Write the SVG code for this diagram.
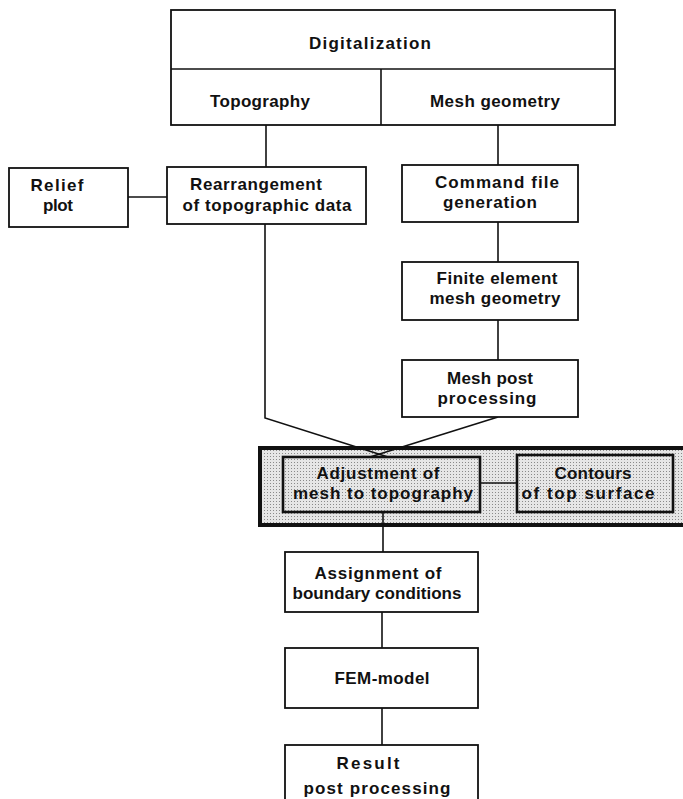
<svg xmlns="http://www.w3.org/2000/svg" width="683" height="799" viewBox="0 0 683 799">
  <style>
    .box { fill: #fff; stroke: #111; stroke-width: 1.8; }
    .inner { fill: url(#stipple); stroke: #111; stroke-width: 2.6; }
    .frame { fill: url(#stipple); stroke: #111; stroke-width: 4; }
    .wire { fill: none; stroke: #111; stroke-width: 1.6; }
    text { font-family: "Liberation Sans", Arial, sans-serif; font-size: 17px; font-weight: bold; fill: #111; text-anchor: middle; }
  </style>
  <defs>
    <pattern id="stipple" width="3" height="3" patternUnits="userSpaceOnUse">
      <rect width="3" height="3" fill="#e6e6e6"/>
      <rect x="0" y="0" width="1" height="1" fill="#8a8a8a"/>
    </pattern>
  </defs>

  <!-- shaded frame behind the adjustment stage -->
  <g id="adjustment-block">
    <rect class="frame" x="260" y="448" width="430" height="77"/>
  </g>

  <!-- connectors -->
  <g id="connectors">
    <line class="wire" x1="266" y1="125" x2="266" y2="167"/>
    <line class="wire" x1="498" y1="125" x2="498" y2="165"/>
    <line class="wire" x1="128" y1="197" x2="167" y2="197"/>
    <line class="wire" x1="498" y1="222" x2="498" y2="262"/>
    <line class="wire" x1="498" y1="320" x2="498" y2="360"/>
    <polyline class="wire" points="265,224 265,418 388,457"/>
    <line class="wire" x1="498" y1="417" x2="370" y2="457"/>
    <line class="wire" x1="480" y1="483" x2="517" y2="483"/>
    <line class="wire" x1="383" y1="512" x2="383" y2="552"/>
    <line class="wire" x1="382" y1="612" x2="382" y2="648"/>
    <line class="wire" x1="382" y1="708" x2="382" y2="745"/>
  </g>

  <!-- top block -->
  <g id="digitalization">
    <rect class="box" x="171" y="10" width="444" height="115"/>
    <line class="wire" x1="171" y1="69" x2="615" y2="69"/>
    <text x="370" y="49" textLength="122" lengthAdjust="spacing">Digitalization</text>
  </g>
  <g id="topography">
    <text x="260" y="107" textLength="100" lengthAdjust="spacing">Topography</text>
  </g>
  <g id="mesh-geometry">
    <line class="wire" x1="381" y1="69" x2="381" y2="125"/>
    <text x="495" y="107" textLength="130" lengthAdjust="spacing">Mesh geometry</text>
  </g>

  <g id="relief-plot">
    <rect class="box" x="9" y="168" width="119" height="59"/>
    <text x="57" y="191" textLength="53" lengthAdjust="spacing">Relief</text>
    <text x="58" y="211" textLength="30" lengthAdjust="spacing">plot</text>
  </g>

  <g id="rearrangement">
    <rect class="box" x="167" y="167" width="199" height="57"/>
    <text x="256" y="190" textLength="132" lengthAdjust="spacing">Rearrangement</text>
    <text x="267" y="211" textLength="169" lengthAdjust="spacing">of topographic data</text>
  </g>

  <g id="command-file">
    <rect class="box" x="402" y="165" width="176" height="57"/>
    <text x="497" y="188" textLength="124" lengthAdjust="spacing">Command file</text>
    <text x="490" y="208" textLength="94" lengthAdjust="spacing">generation</text>
  </g>

  <g id="finite-element">
    <rect class="box" x="402" y="262" width="176" height="58"/>
    <text x="497" y="284" textLength="121" lengthAdjust="spacing">Finite element</text>
    <text x="495" y="304" textLength="131" lengthAdjust="spacing">mesh geometry</text>
  </g>

  <g id="mesh-post">
    <rect class="box" x="402" y="360" width="176" height="57"/>
    <text x="490" y="384" textLength="86" lengthAdjust="spacing">Mesh post</text>
    <text x="487" y="404" textLength="99" lengthAdjust="spacing">processing</text>
  </g>

  <!-- stages inside the shaded frame -->
  <g id="adjustment">
    <rect class="inner" x="283" y="457" width="197" height="55"/>
    <text x="378" y="479" textLength="123" lengthAdjust="spacing">Adjustment of</text>
    <text x="383" y="499" textLength="180" lengthAdjust="spacing">mesh to topography</text>
  </g>
  <g id="contours">
    <rect class="inner" x="517" y="455" width="156" height="57"/>
    <text x="593" y="479" textLength="77" lengthAdjust="spacing">Contours</text>
    <text x="588" y="499" textLength="133" lengthAdjust="spacing">of top surface</text>
  </g>

  <g id="assignment">
    <rect class="box" x="285" y="552" width="193" height="60"/>
    <text x="378" y="579" textLength="127" lengthAdjust="spacing">Assignment of</text>
    <text x="377" y="599" textLength="169" lengthAdjust="spacing">boundary conditions</text>
  </g>

  <g id="fem-model">
    <rect class="box" x="285" y="648" width="193" height="60"/>
    <text x="382" y="684" textLength="95" lengthAdjust="spacing">FEM-model</text>
  </g>

  <g id="result">
    <rect class="box" x="285" y="745" width="193" height="60"/>
    <text x="368" y="769" textLength="63" lengthAdjust="spacing">Result</text>
    <text x="377" y="794" textLength="147" lengthAdjust="spacing">post processing</text>
  </g>
</svg>
